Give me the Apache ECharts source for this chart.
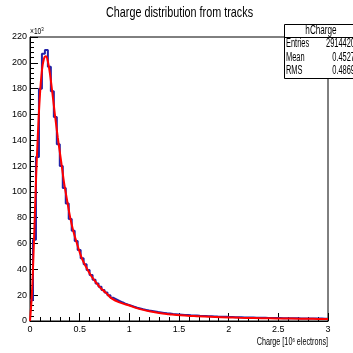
<!DOCTYPE html>
<html><head><meta charset="utf-8">
<script src="https://cdn.jsdelivr.net/npm/echarts@6/dist/echarts.min.js"></script>
<style>html,body{margin:0;padding:0;background:#fff}#c{width:353px;height:353px}</style>
</head><body><div id="c"></div>
<script>
const FONT = "'Liberation Sans',Arial,sans-serif";
const titleText = 'Charge distribution from tracks';
const histName = 'hCharge';
const statsLabels = ['Entries', 'Mean', 'RMS'];
const statsValues = ['2914420', '0.4527', '0.4869'];
const xTickLabels = ['0', '0.5', '1', '1.5', '2', '2.5', '3'];
const yTickLabels = ['0','20','40','60','80','100','120','140','160','180','200','220'];
const binLow = 0, binWidth = 0.03;
// histogram bin contents (x10^3)
const binValues = [16,63,127,180,207,210,197,178,158,137,120,103,91,79,70,62,55,48.6,44,39.5,35.6,32,29,26.6,24,22,20,18,
  16.8,15.6,14.5,13.5,12.6,11.8,11.0,10.3,9.7,9.1,8.6,8.1,
  7.7,7.3,6.9,6.6,6.3,6.0,5.8,5.5,5.3,5.1,
  4.9,4.7,4.6,4.4,4.3,4.2,4.0,3.9,3.8,3.7,
  3.6,3.5,3.4,3.35,3.25,3.2,3.1,3.05,3.0,2.9,
  2.85,2.8,2.75,2.7,2.65,2.6,2.55,2.5,2.45,2.4,
  2.35,2.3,2.3,2.25,2.2,2.2,2.15,2.1,2.1,2.05,
  2.0,2.0,1.95,1.95,1.9,1.9,1.85,1.85,1.8,1.8];
// fitted curve (x10^3)
const fitX = [0,0.02,0.04,0.06,0.08,0.10,0.12,0.14,0.16,0.18,0.20,0.22,0.24,0.26,0.28,0.30,0.32,0.345,0.37,0.405,0.435,0.465,0.495,0.525,0.57,0.615,0.66,0.705,0.765,0.825,0.915,1.0,1.065,1.14,1.215,1.3,1.4,1.515,1.65,1.815,2.0,2.115,2.25,2.415,2.55,2.715,2.85,3.0];
const fitY = [0,22,62,108,146,175,194,203,205,201,192,180,167,154,142,131,120,106,95,80,70,62,54.5,48,41,35,30.3,26,21.8,17.3,14.0,12.0,10.2,8.6,7.3,6.2,5.3,4.4,3.8,3.2,2.8,2.5,2.3,2.1,1.95,1.75,1.65,1.55];

const histData = binValues.map((v, i) => [binLow + i * binWidth, v]);
histData.push([binLow + binValues.length * binWidth, binValues[binValues.length - 1]]);
const fitData = fitX.map((x, i) => [x, fitY[i]]);

const chart = echarts.init(document.getElementById('c'), null, {renderer: 'canvas'});
const L = 30, R = 328, T = 37, B = 321;
function txt(x, y, text, size, align, sx) {
  return {type: 'text', x: x, y: y, scaleX: sx, z: 11,
    style: {text: text, align: align, verticalAlign: 'middle', font: size + 'px ' + FONT, fill: '#000'}};
}
chart.setOption({
  animation: false,
  backgroundColor: '#fff',
  grid: {left: L, right: 353 - R, top: T, bottom: 353 - B, show: true, borderColor: '#000', borderWidth: 1},
  xAxis: {type: 'value', min: 0, max: 3, interval: 0.5,
    axisLine: {show: true, onZero: false, lineStyle: {color: '#000', width: 1}},
    axisTick: {show: true, inside: true, length: 8, lineStyle: {color: '#000'}},
    minorTick: {show: true, splitNumber: 5, length: 4, lineStyle: {color: '#000'}},
    splitLine: {show: false},
    axisLabel: {margin: 4, fontFamily: FONT, fontSize: 9, color: '#000',
      formatter: (v) => xTickLabels[Math.round(v / 0.5)]}
  },
  yAxis: {type: 'value', min: 0, max: 220, interval: 20,
    axisLine: {show: true, onZero: false, lineStyle: {color: '#000', width: 1}},
    axisTick: {show: true, inside: true, length: 8, lineStyle: {color: '#000'}},
    minorTick: {show: true, splitNumber: 5, length: 4, lineStyle: {color: '#000'}},
    splitLine: {show: false},
    axisLabel: {margin: 3, fontFamily: FONT, fontSize: 9, color: '#000',
      formatter: (v) => yTickLabels[Math.round(v / 20)]}
  },
  series: [
    {type: 'line', data: histData, step: 'end', showSymbol: false, symbol: 'none',
      lineStyle: {color: '#2323a8', width: 2}, z: 2},
    {type: 'line', data: fitData, smooth: 0.4, showSymbol: false, symbol: 'none',
      lineStyle: {color: '#ff0000', width: 2}, z: 3}
  ],
  graphic: [
    txt(179.5, 13, titleText, 15, 'center', 0.72),
    {type: 'text', x: 30, y: 26, scaleX: 0.74, z: 11, style: {text: '{a|×10}{s|3}', rich: {a: {fontFamily: FONT, fontSize: 9, fill: '#000'}, s: {fontFamily: FONT, fontSize: 6, fill: '#000', verticalAlign: 'top', padding: [0,0,5,0]}}}},
    {type: 'text', x: 328, y: 337, scaleX: 0.72, z: 11, style: {text: '{a|Charge [10}{s|6}{a| electrons]}', align: 'right', rich: {a: {fontFamily: FONT, fontSize: 10, fill: '#000'}, s: {fontFamily: FONT, fontSize: 6, fill: '#000', verticalAlign: 'top', padding: [0,0,5,0]}}}},
    {type: 'rect', shape: {x: 284.5, y: 24.5, width: 80, height: 54}, style: {fill: '#fff', stroke: '#000', lineWidth: 1}, z: 10},
    {type: 'line', shape: {x1: 284.5, y1: 37.5, x2: 365, y2: 37.5}, style: {stroke: '#000', lineWidth: 1}, z: 11},
    txt(321, 31, histName, 12, 'center', 0.68),
    txt(286, 44, statsLabels[0], 12, 'left', 0.62),
    txt(286, 57.5, statsLabels[1], 12, 'left', 0.62),
    txt(286, 71, statsLabels[2], 12, 'left', 0.62),
    txt(355, 44, statsValues[0], 12, 'right', 0.62),
    txt(355, 57.5, statsValues[1], 12, 'right', 0.62),
    txt(355, 71, statsValues[2], 12, 'right', 0.62)
  ]
});
</script></body></html>
